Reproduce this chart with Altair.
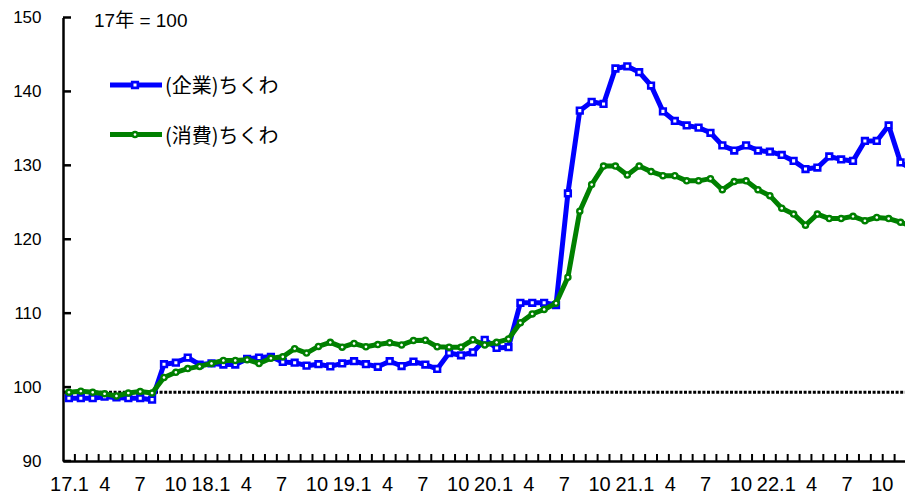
import altair as alt
import pandas as pd
import numpy as np

# ---- data (monthly, 2017.1 - 2022.12) ----
months = [f"{17 + i // 12}.{i % 12 + 1}" for i in range(72)]

kigyo = [98.5, 98.5, 98.5, 98.7, 98.6, 98.5, 98.5, 98.3, 103.1, 103.3, 104.0, 103.05,
         103.2, 103.05, 103.05, 103.8, 104.0, 104.1, 103.4, 103.3, 102.9, 103.1, 102.8, 103.2,
         103.5, 103.1, 102.75, 103.5, 102.85, 103.45, 103.05, 102.45, 104.6, 104.3, 104.7, 106.4,
         105.3, 105.4, 111.4, 111.4, 111.4, 111.1, 126.2, 137.4, 138.6, 138.3, 143.1, 143.4,
         142.6, 140.8, 137.3, 136.0, 135.4, 135.1, 134.4, 132.7, 132.0, 132.7, 132.0, 131.85,
         131.4, 130.6, 129.5, 129.7, 131.2, 130.8, 130.6, 133.3, 133.3, 135.4, 130.4, 129.4]

shohi = [99.3, 99.45, 99.3, 99.1, 98.8, 99.2, 99.4, 99.2, 101.3, 102.0, 102.5, 102.8,
         103.2, 103.6, 103.6, 103.7, 103.2, 103.9, 104.1, 105.2, 104.6, 105.5, 106.05, 105.4,
         105.9, 105.45, 105.75, 106.0, 105.7, 106.3, 106.35, 105.45, 105.4, 105.4, 106.4, 105.7,
         106.05, 106.5, 108.7, 109.9, 110.5, 111.35, 114.85, 123.8, 127.4, 129.9, 129.9, 128.7,
         129.9, 129.15, 128.6, 128.6, 127.9, 127.9, 128.2, 126.7, 127.8, 127.9, 126.7, 125.9,
         124.2, 123.4, 121.9, 123.4, 122.8, 122.8, 123.1, 122.5, 122.95, 122.8, 122.3, 121.75]

base_level = [99.3]
y_ticks = [90, 100, 110, 120, 130, 140, 150]
x_label_pos = list(range(0, 72, 3))
x_labels = [f"{17 + k // 12}.1" if k % 12 == 0 else str(k % 12 + 1) for k in x_label_pos]
x_tick_pos = list(range(1, 72))

series_names = ["(企業)ちくわ", "(消費)ちくわ"]
BLUE = "#0000FF"
GREEN = "#008000"

# ---- layout ----
TOP = 9.5
W, H = 842, 443.5
PX_PER_MONTH = 11.88
xscale = alt.Scale(domain=[0, W / PX_PER_MONTH], nice=False, zero=False)
lab_d0 = -6.5 / 11.78
xscale_lab = alt.Scale(domain=[lab_d0, lab_d0 + W / 11.78], nice=False, zero=False)
yscale = alt.Scale(domain=[90, 150], nice=False, zero=False)

FONT = "Liberation Sans, Arial, Noto Sans CJK JP"
JFONT = "Noto Sans CJK JP"

yaxis = alt.Axis(values=y_ticks, labelFontSize=17, labelFont=FONT, labelColor="black",
                 labelPadding=22, ticks=False, domain=True, domainColor="black",
                 domainWidth=2.5, grid=False, title=None)

df_k = pd.DataFrame({"x": np.arange(72) + 0.5, "v": kigyo, "m": months})
df_s = pd.DataFrame({"x": np.arange(72) + 0.5, "v": shohi, "m": months})


def Y(field="v"):
    return alt.Y(f"{field}:Q", scale=yscale, axis=yaxis)


line_k = alt.Chart(df_k).mark_line(color=BLUE, strokeWidth=5, strokeJoin="round").encode(
    x=alt.X("x:Q", scale=xscale,
            axis=alt.Axis(labels=False, ticks=False, domain=True, domainColor="black",
                          domainWidth=2.5, grid=False, title=None)),
    y=Y())
pts_k = alt.Chart(df_k).mark_point(shape="square", filled=True, fill="white", stroke=BLUE,
                                   strokeWidth=2.6, size=32, opacity=1).encode(
    x=alt.X("x:Q", scale=xscale, axis=None), y=Y())
line_s = alt.Chart(df_s).mark_line(color=GREEN, strokeWidth=5, strokeJoin="round").encode(
    x=alt.X("x:Q", scale=xscale, axis=None), y=Y())
pts_s = alt.Chart(df_s).mark_point(shape="circle", filled=True, fill="white", stroke=GREEN,
                                   strokeWidth=2.4, size=26, opacity=1).encode(
    x=alt.X("x:Q", scale=xscale, axis=None), y=Y())

base = alt.Chart(pd.DataFrame({"v": base_level})).mark_rule(
    color="black", strokeWidth=3.2, strokeDash=[3, 1.6]).encode(
    y=Y(), x=alt.value(0), x2=alt.value(W))

yt = alt.Chart(pd.DataFrame({"v": y_ticks})).mark_rule(color="black", strokeWidth=2.5).encode(
    y=Y(), x=alt.value(0), x2=alt.value(8))

xt = alt.Chart(pd.DataFrame({"x": x_tick_pos})).mark_rule(color="black", strokeWidth=2).encode(
    x=alt.X("x:Q", scale=xscale, axis=None), y=alt.value(H), y2=alt.value(H - 7))

xl = alt.Chart(pd.DataFrame({"x": x_label_pos, "t": x_labels})).mark_text(
    font="Liberation Sans Narrow, Arial Narrow, Liberation Sans", fontSize=20,
    color="black", align="center", baseline="alphabetic").encode(
    x=alt.X("x:Q", scale=xscale_lab, axis=None), y=alt.value(H + 29.5), text="t:N")

note = alt.Chart(pd.DataFrame({"t": ["17年 = 100"]})).mark_text(
    font=FONT, fontSize=19, color="black", align="left", baseline="middle").encode(
    x=alt.value(31), y=alt.value(6 + 15 - 8 - TOP), text="t:N")

leg_df = pd.DataFrame({"t": series_names})
LY1, LY2 = 85 - 8 - TOP, 134.5 - 8 - TOP
leg_k_line = alt.Chart(leg_df.iloc[[0]]).mark_rule(color=BLUE, strokeWidth=5).encode(
    x=alt.value(47), x2=alt.value(99), y=alt.value(LY1))
leg_k_pt = alt.Chart(leg_df.iloc[[0]]).mark_point(shape="square", filled=True, fill="white",
                                                  stroke=BLUE, strokeWidth=2.6, size=32,
                                                  opacity=1).encode(
    x=alt.value(72), y=alt.value(LY1))
leg_k_txt = alt.Chart(leg_df.iloc[[0]]).mark_text(
    font=JFONT, fontSize=20, color="black", align="left", baseline="middle").encode(
    x=alt.value(102), y=alt.value(LY1 + 2), text="t:N")
leg_s_line = alt.Chart(leg_df.iloc[[1]]).mark_rule(color=GREEN, strokeWidth=5).encode(
    x=alt.value(47), x2=alt.value(99), y=alt.value(LY2))
leg_s_pt = alt.Chart(leg_df.iloc[[1]]).mark_point(shape="circle", filled=True, fill="white",
                                                  stroke=GREEN, strokeWidth=2.4, size=26,
                                                  opacity=1).encode(
    x=alt.value(72), y=alt.value(LY2))
leg_s_txt = alt.Chart(leg_df.iloc[[1]]).mark_text(
    font=JFONT, fontSize=20, color="black", align="left", baseline="middle").encode(
    x=alt.value(102), y=alt.value(LY2 + 2), text="t:N")

chart = alt.layer(
    base, line_k, pts_k, line_s, pts_s, yt, xt, xl, note,
    leg_k_line, leg_k_pt, leg_k_txt, leg_s_line, leg_s_pt, leg_s_txt
).resolve_scale(x="independent").properties(
    width=W, height=H,
    padding={"left": 55, "top": TOP, "right": 0, "bottom": 34},
    autosize=alt.AutoSizeParams(type="none"),
    background="white",
).configure_view(stroke=None)

chart.save("out.html", embed_options={"renderer": "svg", "actions": False})
